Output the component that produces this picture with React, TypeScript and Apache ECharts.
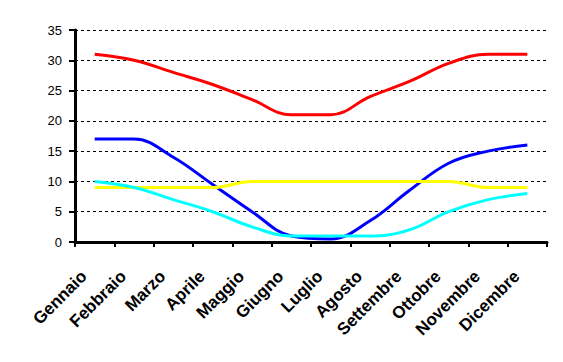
import React, { useEffect, useRef } from "react";
import * as echarts from "echarts";

const months = ["Gennaio", "Febbraio", "Marzo", "Aprile", "Maggio", "Giugno", "Luglio", "Agosto", "Settembre", "Ottobre", "Novembre", "Dicembre"];
const redSeries = [31, 30, 28, 26, 23.5, 21, 21, 24, 26.5, 29.5, 31, 31];
const blueSeries = [17, 17, 14, 9.5, 5, 1, 0.5, 3.5, 8.5, 13, 15, 16];
const yellowSeries = [9, 9, 9, 9, 10, 10, 10, 10, 10, 10, 9, 9];
const cyanSeries = [10, 9, 7, 5, 2.5, 1, 1, 1, 2, 5, 7, 8];

export default function App() {
  const ref = useRef<HTMLDivElement>(null);
  useEffect(() => {
    if (!ref.current) return;
    const chart = echarts.init(ref.current, null, { renderer: "svg" });
    const mk = (name: string, data: number[], color: string) => ({
      name,
      type: "line",
      data,
      smooth: 0.4,
      symbol: "none",
      lineStyle: { color, width: 3 },
      itemStyle: { color },
    });
    chart.setOption({
      animation: false,
      backgroundColor: "#ffffff",
      grid: { left: 75, right: 16, top: 30, bottom: 120 },
      xAxis: {
        type: "category",
        data: months,
        boundaryGap: true,
        axisLine: { lineStyle: { color: "#000", width: 3 } },
        axisTick: { show: true, interval: 0, length: 5, lineStyle: { color: "#000", width: 2 } },
        axisLabel: {
          interval: 0,
          rotate: 45,
          margin: 21,
          padding: [0, 15, 0, 0],
          color: "#000",
          fontFamily: "Liberation Sans, Arial, sans-serif",
          fontWeight: "bold",
          fontSize: 17,
        },
      },
      yAxis: {
        type: "value",
        min: 0,
        max: 35,
        interval: 5,
        axisLine: { show: true, lineStyle: { color: "#000", width: 3 } },
        axisTick: { show: true, length: 6, lineStyle: { color: "#000", width: 2 } },
        axisLabel: {
          margin: 13,
          color: "#000",
          fontFamily: "Liberation Sans, Arial, sans-serif",
          fontSize: 13,
        },
        splitLine: { show: true, lineStyle: { color: "#000", width: 1, type: [3, 3] } },
      },
      series: [
        mk("Max", redSeries, "#ff0000"),
        mk("Min", blueSeries, "#0000ff"),
        mk("Sole", yellowSeries, "#ffff00"),
        mk("Pioggia", cyanSeries, "#00ffff"),
      ],
    });
    return () => chart.dispose();
  }, []);
  return <div ref={ref} style={{ position: "absolute", left: 0, top: 0, width: 563, height: 362 }} />;
}
